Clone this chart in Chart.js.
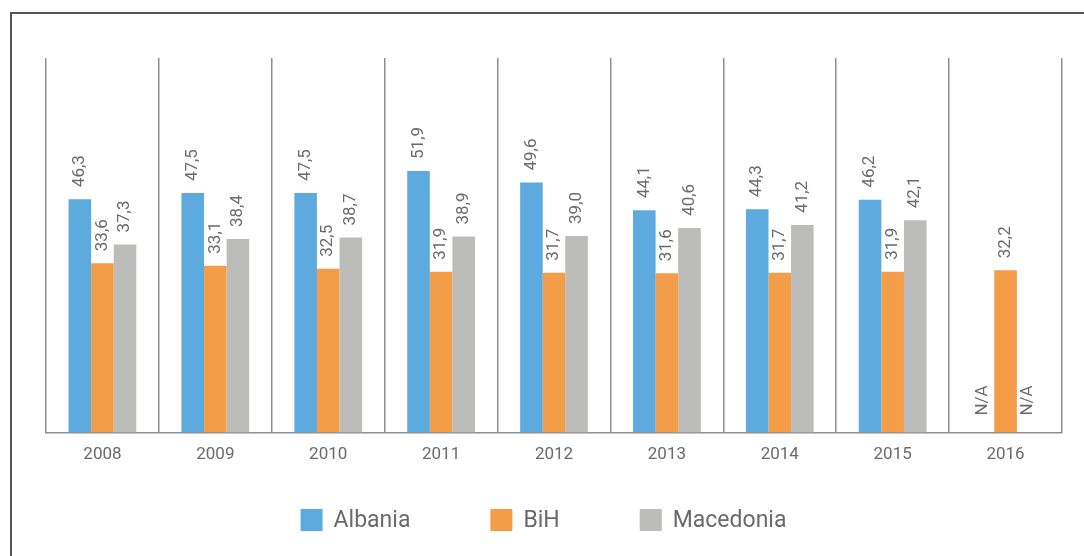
<!DOCTYPE html>
<html>
<head>
<meta charset="utf-8">
<script src="https://cdn.jsdelivr.net/npm/chart.js@4/dist/chart.umd.min.js"></script>
<style>
  html, body { margin: 0; padding: 0; background: #fff; }
  #wrap { position: relative; width: 1084px; height: 556px; overflow: hidden; }
  #frameTop { position: absolute; left: 10px; top: 12px; width: 1074px; height: 2px; background: #555; }
  #frameLeft { position: absolute; left: 10px; top: 12px; width: 2px; height: 544px; background: #555; }
  canvas { position: absolute; left: 0; top: 0; }
</style>
</head>
<body>
<div id="wrap">
  <div id="frameTop"></div>
  <div id="frameLeft"></div>
  <canvas id="c" width="1084" height="556"></canvas>
</div>
<script>
const categories = ['2008','2009','2010','2011','2012','2013','2014','2015','2016'];
const albania   = [46.3, 47.5, 47.5, 51.9, 49.6, 44.1, 44.3, 46.2, null];
const bih       = [33.6, 33.1, 32.5, 31.9, 31.7, 31.6, 31.7, 31.9, 32.2];
const macedonia = [37.3, 38.4, 38.7, 38.9, 39.0, 40.6, 41.2, 42.1, null];
const seriesNames = ['Albania', 'BiH', 'Macedonia'];
const seriesColors = ['#5DAADF', '#F39D48', '#BCBCBA'];
const naLabel = 'N/A';

const FONT = 'Roboto, "Liberation Sans", sans-serif';
const TEXT = '#6a6a6a';

const labelPlugin = {
  id: 'valueLabels',
  afterDatasetsDraw(chart) {
    const ctx = chart.ctx;
    ctx.save();
    ctx.font = '17px ' + FONT;
    ctx.fillStyle = TEXT;
    ctx.textAlign = 'left';
    ctx.textBaseline = 'middle';
    chart.data.datasets.forEach((ds, di) => {
      const meta = chart.getDatasetMeta(di);
      meta.data.forEach((bar, i) => {
        const v = ds.data[i];
        let text, y;
        if (v === null || v === undefined) {
          text = naLabel;
          y = chart.scales.y.getPixelForValue(0) - 17;
        } else {
          text = v.toFixed(1).replace('.', ',');
          y = bar.y - 12;
        }
        ctx.save();
        ctx.translate(bar.x, y);
        ctx.rotate(-Math.PI / 2);
        ctx.fillText(text, 0, 0);
        ctx.restore();
      });
    });
    ctx.restore();
  }
};

// Legend drawn from the datasets' own labels and colours
const legendPlugin = {
  id: 'bottomLegend',
  afterDraw(chart) {
    const ctx = chart.ctx;
    const box = 22, textGap = 11, itemGap = 80, centerY = 520, centerX = 543.5;
    ctx.save();
    ctx.font = '23px ' + FONT;
    ctx.textBaseline = 'middle';
    ctx.textAlign = 'left';
    const items = chart.data.datasets.map(ds => ({
      label: ds.label, color: ds.backgroundColor,
      w: box + textGap + ctx.measureText(ds.label).width
    }));
    const total = items.reduce((s, it) => s + it.w, 0) + itemGap * (items.length - 1);
    let x = centerX - total / 2;
    items.forEach(it => {
      ctx.fillStyle = it.color;
      ctx.fillRect(x, centerY - box / 2, box, box);
      ctx.fillStyle = TEXT;
      ctx.fillText(it.label, x + box + textGap, centerY + 1);
      x += it.w + itemGap;
    });
    ctx.restore();
  }
};

new Chart(document.getElementById('c'), {
  type: 'bar',
  data: {
    labels: categories,
    datasets: [
      { label: seriesNames[0], data: albania, backgroundColor: seriesColors[0] },
      { label: seriesNames[1], data: bih, backgroundColor: seriesColors[1] },
      { label: seriesNames[2], data: macedonia, backgroundColor: seriesColors[2] }
    ]
  },
  options: {
    responsive: false,
    animation: false,
    devicePixelRatio: 1,
    layout: { padding: { left: 46, right: 22, top: 58, bottom: 79 } },
    datasets: { bar: { categoryPercentage: 0.6, barPercentage: 1.0 } },
    scales: {
      x: {
        grid: { offset: true, display: true, color: '#8f8f8f', lineWidth: 1.5, drawTicks: false },
        border: { display: true, color: '#8f8f8f', width: 1.5 },
        ticks: { color: TEXT, font: { family: FONT, size: 17 }, padding: 12 }
      },
      y: {
        display: false,
        min: 0,
        max: 74.3
      }
    },
    plugins: {
      legend: { display: false },
      tooltip: { enabled: false }
    }
  },
  plugins: [labelPlugin, legendPlugin]
});
</script>
</body>
</html>
